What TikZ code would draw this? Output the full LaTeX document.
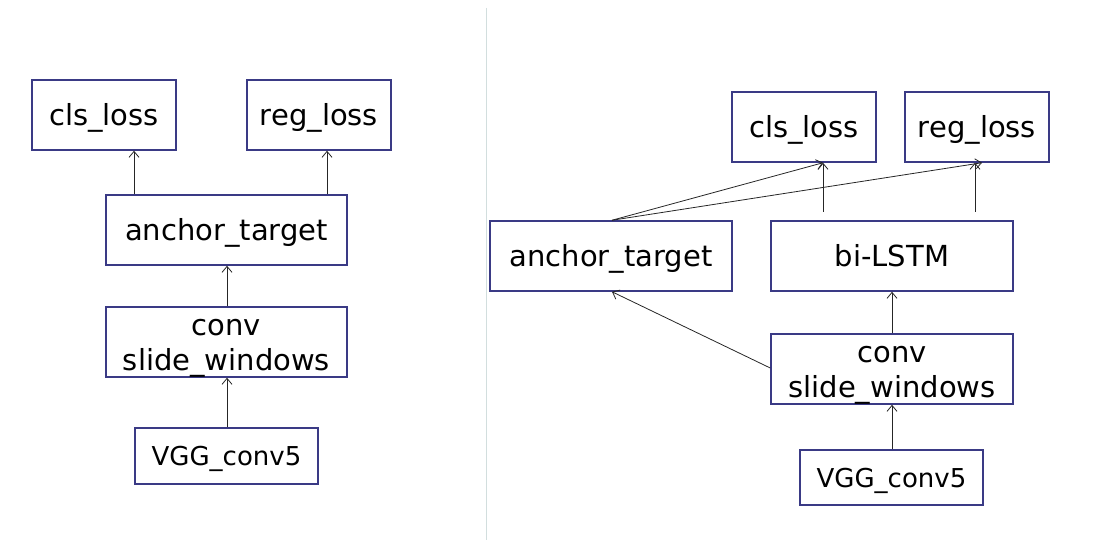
\documentclass[tikz,border=0pt]{standalone}
\usepackage{fontspec}
\setmainfont{DejaVu Sans}
\usetikzlibrary{arrows.meta}
\definecolor{boxc}{HTML}{3A3A85}
\definecolor{divc}{HTML}{D2DEDE}
\tikzset{
  blk/.style={draw=boxc, line width=1.5pt, minimum height=70pt, inner sep=0pt, align=center,
    font=\fontsize{29}{35}\selectfont, text height=21pt, text depth=0pt},
  blktwo/.style={blk, text height=56pt, text depth=0pt},
  blksm/.style={blk, minimum width=183pt, font=\fontsize{26}{31}\selectfont, text height=19pt, text depth=0pt},
  con/.style={draw=black!85, line width=0.8pt, -{Straight Barb[length=6pt,width=10pt]}}
}
\begin{document}
\begin{tikzpicture}[x=1pt,y=-1pt]
\useasboundingbox (0,0) rectangle (1093,540);
\draw[divc, line width=1pt] (486,8) -- (486,540);
% left
\node[blk, minimum width=144pt] (lcls) at (104,115) {cls\_loss};
\node[blk, minimum width=144pt] (lreg) at (319,115) {reg\_loss};
\node[blk, minimum width=241pt] (lanc) at (226.5,230) {anchor\_target};
\node[blktwo, minimum width=241pt] (lconv) at (226.5,342) {conv\\slide\_windows};
\node[blksm, minimum height=56pt] (lvgg) at (226.5,456) {VGG\_conv5};
\draw[con] (lanc.north -| 134,0) -- (lcls.south -| 134,0);
\draw[con] (lanc.north -| 327,0) -- (lreg.south -| 327,0);
\draw[con] (lconv.north -| 227,0) -- (lanc.south -| 227,0);
\draw[con] (lvgg.north -| 227,0) -- (lconv.south -| 227,0);
% right
\node[blk, minimum width=144pt] (rcls) at (804,127) {cls\_loss};
\node[blk, minimum width=144pt] (rreg) at (977,127) {reg\_loss};
\node[blk, minimum width=242pt] (ranc) at (611,256) {anchor\_target};
\node[blk, minimum width=242pt] (rlstm) at (892,256) {bi-LSTM};
\node[blktwo, minimum width=242pt] (rconv) at (892,369) {conv\\slide\_windows};
\node[blksm, minimum height=55pt] (rvgg) at (891.5,477.5) {VGG\_conv5};
\coordinate (ra) at (ranc.north -| 612,0);
\draw[con] (ra) -- (rcls.south -| 823,0);
\draw[con] (ra) -- (rreg.south -| 982,0);
\coordinate (rl1) at (823,212);
\coordinate (rl2) at (975,212);
\draw[con] (rl1) -- (rcls.south -| rl1);
\draw[con] (rl2) -- (rreg.south -| rl2);
\draw[con] (rconv.west |- 0,368) -- (ranc.south -| 612,0);
\draw[con] (rconv.north -| 892,0) -- (rlstm.south -| 892,0);
\draw[con] (rvgg.north -| 892,0) -- (rconv.south -| 892,0);
\end{tikzpicture}
\end{document}
